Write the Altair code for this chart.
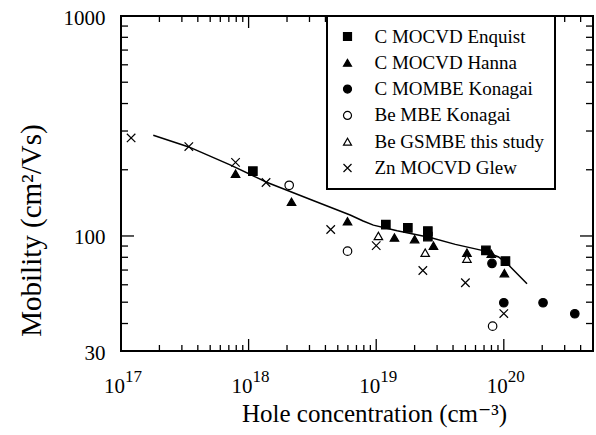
import altair as alt
import pandas as pd

FONT = "Liberation Serif, DejaVu Serif, serif"

series_names = ["C MOCVD Enquist", "C MOCVD Hanna", "C MOMBE Konagai",
                "Be MBE Konagai", "Be GSMBE this study", "Zn MOCVD Glew"]

enquist_x = [1.08e18, 1.19e19, 1.77e19, 2.54e19, 2.54e19, 7.24e19, 1.03e20]
enquist_y = [197, 112.6, 108.9, 105.3, 99.4, 86.0, 76.9]
hanna_x = [7.9e17, 2.17e18, 5.96e18, 1.39e19, 2.0e19, 2.81e19, 5.14e19, 7.98e19, 1.01e20]
hanna_y = [192, 143, 116.6, 98.4, 96.7, 90.4, 83.9, 83.0, 67.8]
mombe_x = [8.08e19, 1.0e20, 2.03e20, 3.6e20]
mombe_y = [75, 49.7, 49.7, 44.3]
bembe_x = [2.08e18, 5.96e18, 8.17e19]
bembe_y = [170, 85.3, 38.9]
gsmbe_x = [1.04e19, 2.42e19, 5.14e19]
gsmbe_y = [100, 83.9, 78.9]
glew_x = [1.2e17, 3.4e17, 7.9e17, 1.37e18, 4.4e18, 1.0e19, 2.32e19, 5.0e19, 1.0e20]
glew_y = [279, 255, 216, 175, 107, 90.4, 69.7, 61.3, 44.4]

fit_x = [1.79e17, 3.4e17, 7.16e17, 1.40e18, 3.2e18, 6.25e18, 7.9e18, 9.5e18,
         1.46e19, 2.65e19, 4.17e19, 6.75e19, 9.1e19, 1.09e20, 1.52e20]
fit_y = [287, 254, 210.6, 175, 145, 124.6, 117, 112,
         105.6, 98.4, 91.6, 86, 80.3, 73.8, 60.6]

x_major = [1e17, 1e18, 1e19, 1e20]
x_exponents = ["17", "18", "19", "20"]
x_minor = [m * d for d in [1e17, 1e18, 1e19] for m in range(2, 10)] + [2e20, 3e20, 4e20]
y_major = [100, 1000]
y_minor = [m * 10 for m in range(4, 10)] + [m * 100 for m in range(2, 10)]
y_labels = [30, 100, 1000]

shapes = ["square", "triangle-up", "circle", "circle", "triangle-up",
          "M-1,-1L1,1M-1,1L1,-1"]
fills = ["black", "black", "black", "white", "white", "black"]
strokes = ["black"] * 6

W, H = 472, 335

rows = []
for name, xs, ys in zip(series_names,
                        [enquist_x, hanna_x, mombe_x, bembe_x, gsmbe_x, glew_x],
                        [enquist_y, hanna_y, mombe_y, bembe_y, gsmbe_y, glew_y]):
    for a, b in zip(xs, ys):
        rows.append({"conc": a, "mob": b, "series": name})
pts = pd.DataFrame(rows)
fit = pd.DataFrame({"conc": fit_x, "mob": fit_y})
exp_df = pd.DataFrame({"conc": x_major, "exp": x_exponents})

xscale = alt.Scale(type="log", domain=[1e17, 5e20], nice=False)
yscale = alt.Scale(type="log", domain=[30, 1000], nice=False)

x_axis = alt.Axis(values=x_major, labelExpr="'10'", ticks=False, tickSize=0,
                  domain=False, grid=False, labelFont=FONT, labelFontSize=21,
                  labelColor="black", labelPadding=24, labelFlush=False,
                  labelOffset=-7,
                  title="Hole concentration (cm⁻³)", titleFont=FONT,
                  titleFontSize=25, titleFontWeight="normal", titleColor="black",
                  titleX=253, titleY=62, titleAlign="center", titleBaseline="middle")
y_axis = alt.Axis(values=y_labels, format="d", ticks=False, tickSize=0,
                  domain=False, grid=False, labelFont=FONT, labelFontSize=21,
                  labelColor="black", labelPadding=16, labelFlush=False,
                  labelOffset=2,
                  title="Mobility (cm²/Vs)", titleFont=FONT, titleFontSize=29,
                  titleFontWeight="normal", titleColor="black", titleAngle=270,
                  titleX=-90, titleY=214, titleAlign="center", titleBaseline="middle")

X = alt.X("conc:Q", scale=xscale, axis=x_axis)
Y = alt.Y("mob:Q", scale=yscale, axis=y_axis)

line = alt.Chart(fit).mark_line(color="black", strokeWidth=1.5).encode(x=X, y=Y)

legend = alt.Legend(title=None, orient="none", legendX=206, legendY=0,
                    strokeColor="black", fillColor="white",
                    padding=11, rowPadding=6.3, symbolOffset=0,
                    labelOffset=17.5, symbolSize=64,
                    symbolStrokeWidth=1.2,
                    labelFont=FONT, labelFontSize=19,
                    labelColor="black", labelLimit=300)

points = alt.Chart(pts).mark_point(filled=True, strokeWidth=1.2,
                                   size=72, opacity=1).encode(
    x=X, y=Y,
    shape=alt.Shape("series:N", scale=alt.Scale(domain=series_names, range=shapes),
                    legend=legend),
    fill=alt.Fill("series:N", scale=alt.Scale(domain=series_names, range=fills),
                  legend=legend),
    stroke=alt.Stroke("series:N", scale=alt.Scale(domain=series_names, range=strokes),
                      legend=legend),
)

exps = alt.Chart(exp_df).mark_text(
    align="left", baseline="alphabetic", dx=4, font=FONT, fontSize=17,
    color="black").encode(x=X, y=alt.value(H + 31), text="exp:N")

def xticks(vals, y0, y1):
    return alt.Chart(pd.DataFrame({"conc": vals})).mark_rule(
        color="black", strokeWidth=1.3).encode(
        x=X, y=alt.value(y0), y2=alt.value(y1))

def yticks(vals, x0, x1):
    return alt.Chart(pd.DataFrame({"mob": vals})).mark_rule(
        color="black", strokeWidth=1.3).encode(
        y=Y, x=alt.value(x0), x2=alt.value(x1))

ticks = [
    xticks(x_major, H, H - 12), xticks(x_minor, H, H - 6),
    xticks(x_major, 0, 12), xticks(x_minor, 0, 6),
    yticks(y_major, 0, 13), yticks(y_minor, 0, 7),
    yticks(y_major, W, W - 13), yticks(y_minor, W, W - 7),
]

chart = alt.layer(line, *ticks, exps, points).properties(
    width=W, height=H,
    autosize=alt.AutoSizeParams(type="none"),
    padding={"left": 121, "top": 16, "right": 3, "bottom": 84},
    background="white",
).configure_view(stroke="black", strokeWidth=2).configure_legend(strokeWidth=2)

chart.save("out.html", embed_options={"renderer": "svg", "actions": False})
